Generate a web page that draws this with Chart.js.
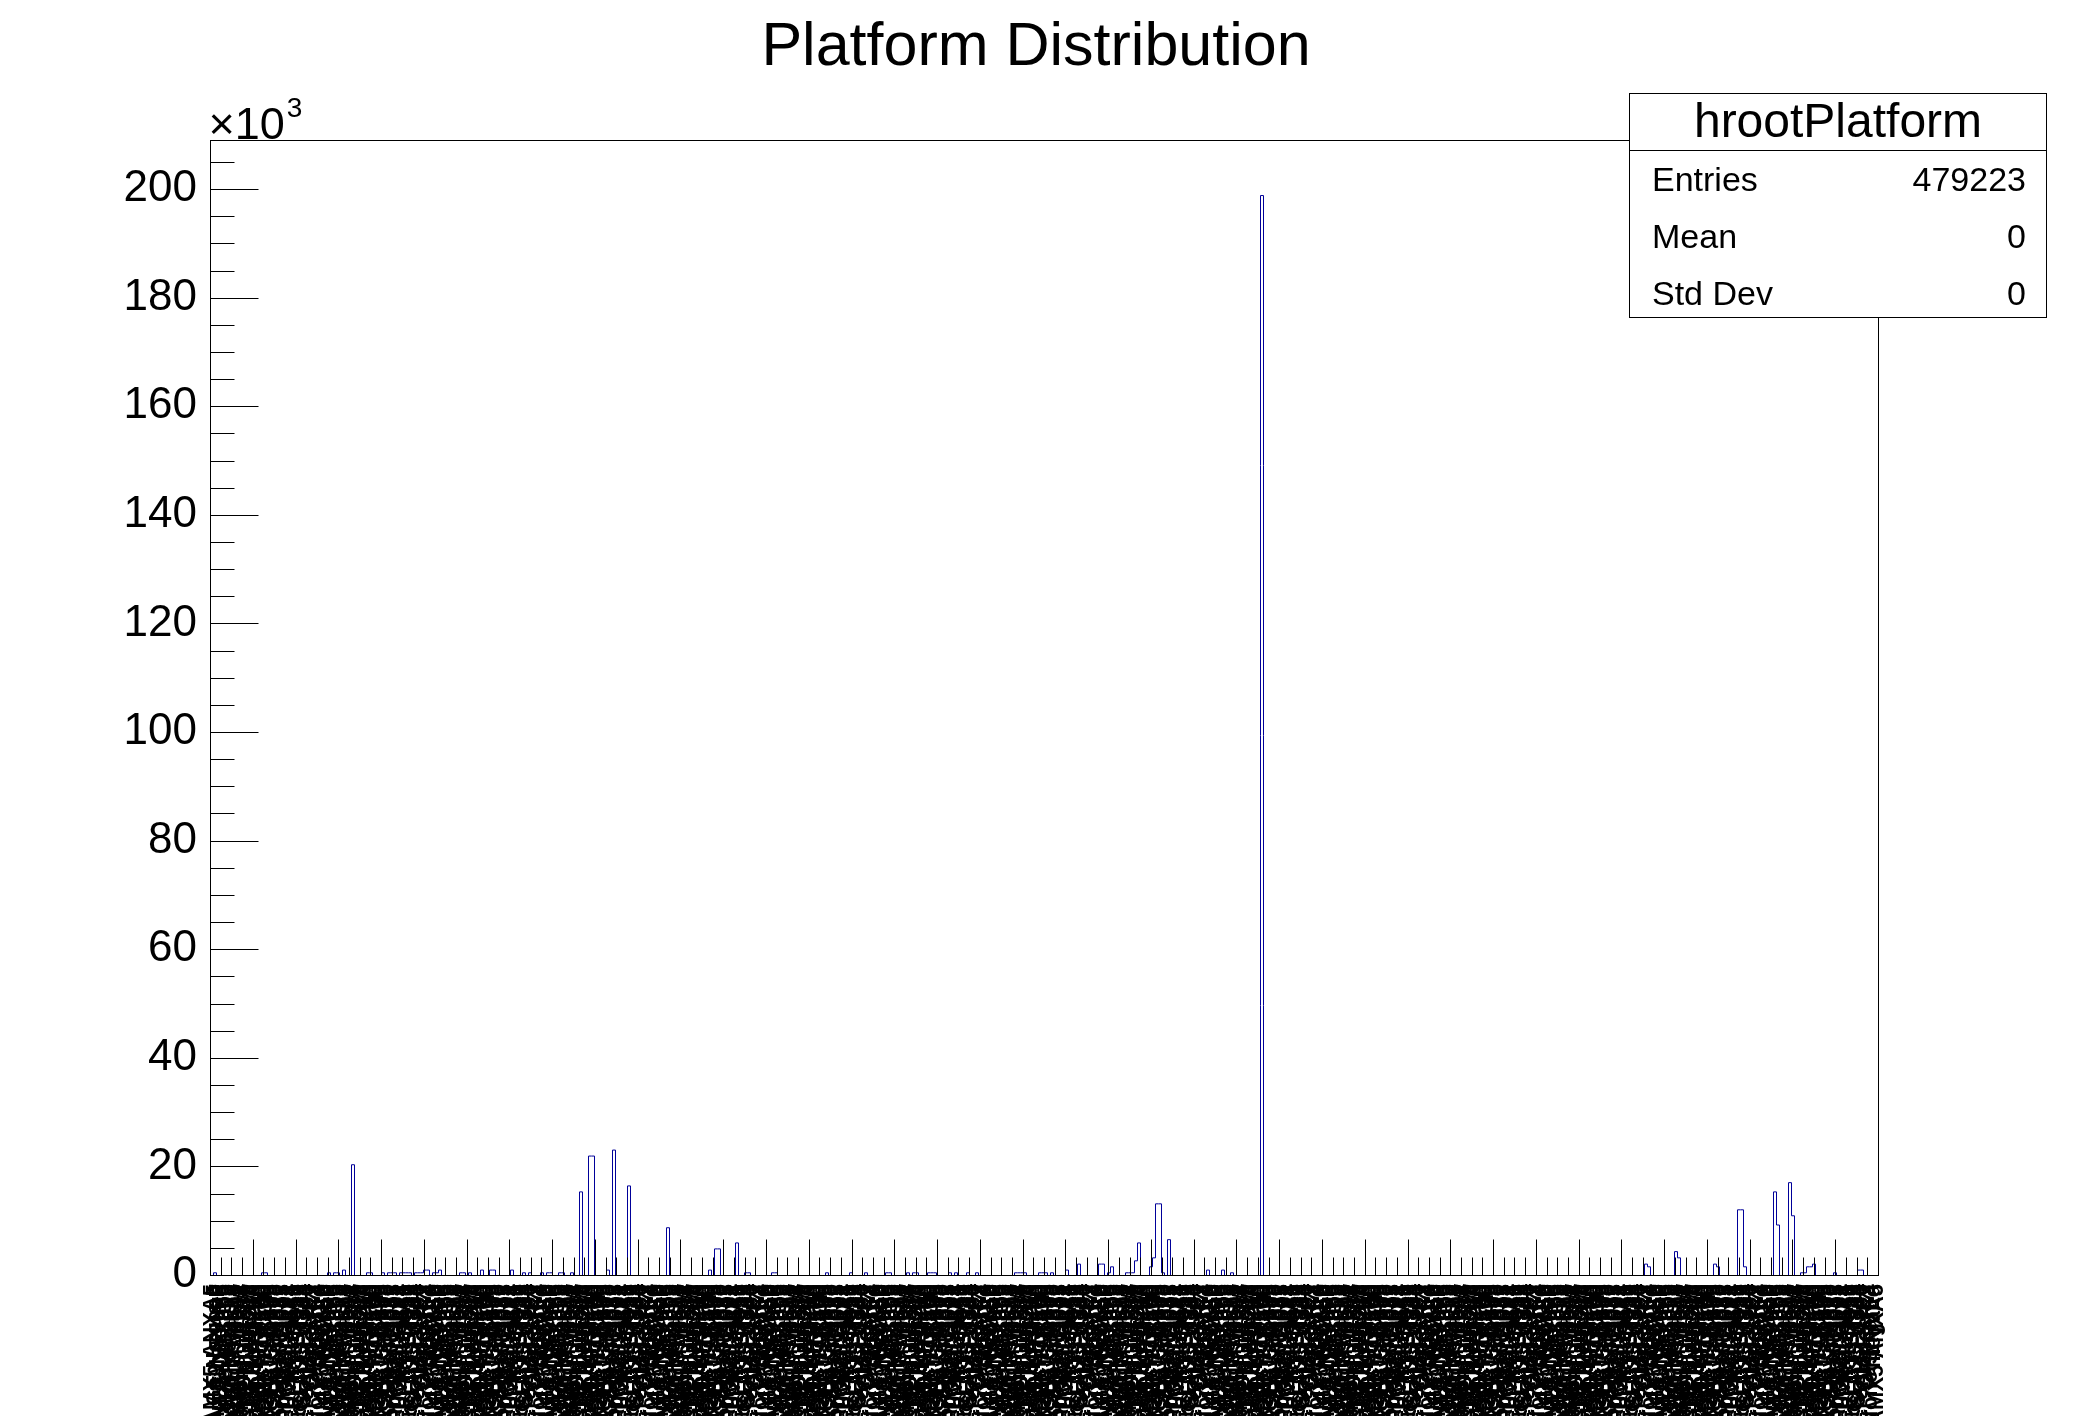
<!DOCTYPE html>
<html>
<head>
<meta charset="utf-8">
<title>Platform Distribution</title>
<script src="https://cdn.jsdelivr.net/npm/chart.js@4.4.1/dist/chart.umd.min.js"></script>
<style>
html, body { margin: 0; padding: 0; background: #fff; }
#wrap { width: 2088px; height: 1416px; position: relative; }
</style>
</head>
<body>
<div id="wrap"><canvas id="histo"></canvas></div>
<script>
var FONT = "'Liberation Sans', Arial, Helvetica, sans-serif";

// histogram: 556 bins, only the non-empty ones are listed
var nBins = 556;
var filledBins = [
    1, 17, 18, 39, 41, 42, 44, 47, 52, 53, 57, 59, 60, 61, 63, 64, 65, 66, 68, 69, 70, 71, 72, 74, 75, 76,
    83, 84, 86, 90, 93, 94, 100, 104, 106, 110, 112, 113, 116, 117, 120, 123, 126, 127, 132, 134, 139,
    152, 166, 168, 169, 175, 178, 179, 187, 188, 205, 213, 218, 225, 226, 232, 234, 235, 239, 240, 241,
    246, 248, 252, 255, 268, 269, 270, 271, 276, 277, 278, 280, 285, 289,
    296, 297, 299, 300, 305, 306, 307, 308, 309, 313, 314, 315, 316, 317, 319, 332, 337, 340, 350,
    478, 479, 488, 489, 501, 502, 509, 510, 511, 521, 522, 526, 527, 530, 531, 532, 533, 534, 541, 549, 550
];
var binCounts = [
    500, 500, 500, 500, 500, 500, 1000, 20400, 500, 500, 500, 500, 500, 500, 500, 500, 500, 500, 500, 500, 500, 1000, 1000, 500, 500, 1000,
    500, 500, 500, 1000, 1000, 1000, 1000, 500, 500, 500, 500, 500, 500, 500, 500, 15400, 22000, 22000, 1000, 23100, 16500,
    8800, 1000, 4900, 4900, 6000, 500, 500, 500, 500, 500, 500, 500, 500, 500, 500, 500, 500, 500, 500, 500,
    500, 500, 500, 500, 500, 500, 500, 500, 500, 500, 500, 500, 1000, 2100,
    2100, 2100, 500, 1600, 500, 500, 500, 2700, 6000, 1600, 3250, 13200, 13200, 500, 6600, 1000, 1000, 500, 198900,
    2100, 1600, 4400, 3250, 2100, 1600, 12100, 12100, 1600, 15400, 9300, 17100, 11000, 500, 500, 1600, 1600, 2100, 500, 1000, 1000
];

// the bin labels overlap into an unreadable block in the picture; these names only fill that block
var namePool = [
    "AMX5 ANXA5", "LGE Nexus 5", "samsung SM-G900F", "HTC One_M8", "motorola XT1068", "Sony D6503",
    "asus Nexus 7", "HUAWEI P7-L10", "samsung GT-I9505", "OnePlus A0001", "Xiaomi MI 3W", "LENOVO A536",
    "ZTE Blade L2", "WIKO RAINBOW", "samsung SM-T210", "Amazon KFTHWI", "BlackBerry STV100", "Archos 50b",
    "ALCATEL ONE TOUCH", "samsung GT-N7100", "LGE LG-D855", "Sony C6903", "HTC Desire 610", "motorola XT1032",
    "samsung SM-N9005", "HUAWEI G620S-L01", "Meizu MX4", "Acer Iconia A1", "TCL S950", "samsung GT-S7580",
    "LGE LG-H815", "Sony E2303", "Micromax A106", "Gionee E7", "OPPO R7f", "Vodafone Smart 4", "megaltd"
];

var yTicks = [0, 20000, 40000, 60000, 80000, 100000, 120000, 140000, 160000, 180000, 200000];
var statNames = ["Entries", "Mean", "Std Dev"];
var statValues = ["479223", "0", "0"];

var counts = [];
for (var i = 0; i < nBins; i++) counts.push(0);
filledBins.forEach(function (b, j) { counts[b] = binCounts[j]; });

var binLabels = [];
for (var i = 0; i < nBins; i++) binLabels.push(namePool[i % namePool.length]);

// step outline: point at each bin's left edge, last one closes the final bin
var points = counts.map(function (c, k) { return { x: k, y: c }; });
points.push({ x: nBins, y: counts[nBins - 1] });

function seg(ctx, x1, y1, x2, y2) {
    ctx.beginPath();
    ctx.moveTo(x1, y1);
    ctx.lineTo(x2, y2);
    ctx.stroke();
}

// shift the histogram half a pixel so its 1px lines stay sharp
var crisp = {
    id: 'crisp',
    beforeDatasetsDraw: function (chart) { chart.ctx.save(); chart.ctx.translate(0.5, 0.5); },
    afterDatasetsDraw: function (chart) { chart.ctx.restore(); }
};

var rootFrame = {
    id: 'rootFrame',
    afterDraw: function (chart) {
        var ctx = chart.ctx;
        var a = chart.chartArea;
        var xs = chart.scales.x, ys = chart.scales.y;
        var L = Math.round(a.left) + 0.5, R = Math.round(a.right) + 0.5;
        var T = Math.round(a.top) + 0.5, B = Math.round(a.bottom) + 0.5;
        ctx.save();
        ctx.strokeStyle = '#000';
        ctx.lineWidth = 1;
        ctx.strokeRect(L, T, R - L, B - T);

        // y ticks, inward
        for (var v = 0; v <= ys.max; v += 5000) {
            var y = Math.round(ys.getPixelForValue(v)) + 0.5;
            seg(ctx, L, y, L + (v % 20000 === 0 ? 48 : 24), y);
        }
        // x ticks, inward
        var nDiv = 156;
        for (var j = 1; j < nDiv; j++) {
            var x = Math.round(xs.getPixelForValue(j * nBins / nDiv)) + 0.5;
            seg(ctx, x, B, x, B - (j % 4 === 0 ? 36 : 18));
        }

        // exponent
        ctx.fillStyle = '#000';
        ctx.textBaseline = 'alphabetic';
        ctx.textAlign = 'left';
        ctx.font = '45px ' + FONT;
        ctx.fillText('\u00d710', L - 2, 139);
        var w = ctx.measureText('\u00d710').width;
        ctx.font = '28px ' + FONT;
        ctx.fillText('3', L - 2 + w + 2, 117);

        // stats box
        var bx = 1629.5, by = 93.5, bw = 417, bh = 224;
        ctx.fillStyle = '#fff';
        ctx.fillRect(bx, by, bw, bh);
        ctx.strokeRect(bx, by, bw, bh);
        seg(ctx, bx, 150.5, bx + bw, 150.5);
        ctx.fillStyle = '#000';
        ctx.textBaseline = 'middle';
        ctx.textAlign = 'center';
        ctx.font = '48px ' + FONT;
        ctx.fillText('hrootPlatform', bx + bw / 2, 124);
        ctx.font = '34px ' + FONT;
        for (var r = 0; r < statNames.length; r++) {
            var ry = 182 + r * 57;
            ctx.textAlign = 'left';
            ctx.fillText(statNames[r], 1652, ry);
            ctx.textAlign = 'right';
            ctx.fillText(statValues[r], 2026, ry);
        }
        ctx.restore();
    }
};

new Chart(document.getElementById('histo'), {
    type: 'line',
    data: {
        datasets: [{
            label: 'hrootPlatform',
            data: points,
            stepped: 'before',
            borderColor: '#000099',
            borderWidth: 1,
            pointRadius: 0,
            fill: false
        }]
    },
    options: {
        responsive: true,
        maintainAspectRatio: false,
        animation: false,
        layout: { padding: { left: 0, right: 16, top: 0, bottom: 0 } },
        plugins: {
            legend: { display: false },
            tooltip: { enabled: false },
            title: {
                display: true,
                text: 'Platform Distribution',
                color: '#000',
                font: { family: FONT, size: 61, weight: 'normal' },
                padding: { top: 12, bottom: 55 }
            }
        },
        scales: {
            x: {
                type: 'linear',
                min: 0,
                max: nBins,
                grid: { display: false, drawTicks: false },
                border: { display: false },
                afterBuildTicks: function (s) {
                    s.ticks = binLabels.map(function (l, k) { return { value: k + 0.5 }; });
                },
                afterFit: function (s) { s.height = 141; },
                ticks: {
                    autoSkip: false,
                    minRotation: 90,
                    maxRotation: 90,
                    padding: 9,
                    color: '#000',
                    font: { family: FONT, size: 22, weight: 'bold' },
                    callback: function (v) { return binLabels[Math.floor(v)]; }
                }
            },
            y: {
                min: 0,
                max: 209000,
                grid: { display: false, drawTicks: false },
                border: { display: false },
                afterBuildTicks: function (s) {
                    s.ticks = yTicks.map(function (v) { return { value: v }; });
                },
                afterFit: function (s) { s.width = 210; },
                ticks: {
                    padding: 13,
                    color: '#000',
                    font: { family: FONT, size: 44 },
                    callback: function (v) { return v / 1000; }
                }
            },
            // empty right margin so the title sits where the reference has it
            yRight: {
                position: 'right',
                display: true,
                grid: { display: false, drawTicks: false },
                border: { display: false },
                ticks: { display: false },
                afterFit: function (s) { s.width = 194; }
            }
        }
    },
    plugins: [crisp, rootFrame]
});
</script>
</body>
</html>
